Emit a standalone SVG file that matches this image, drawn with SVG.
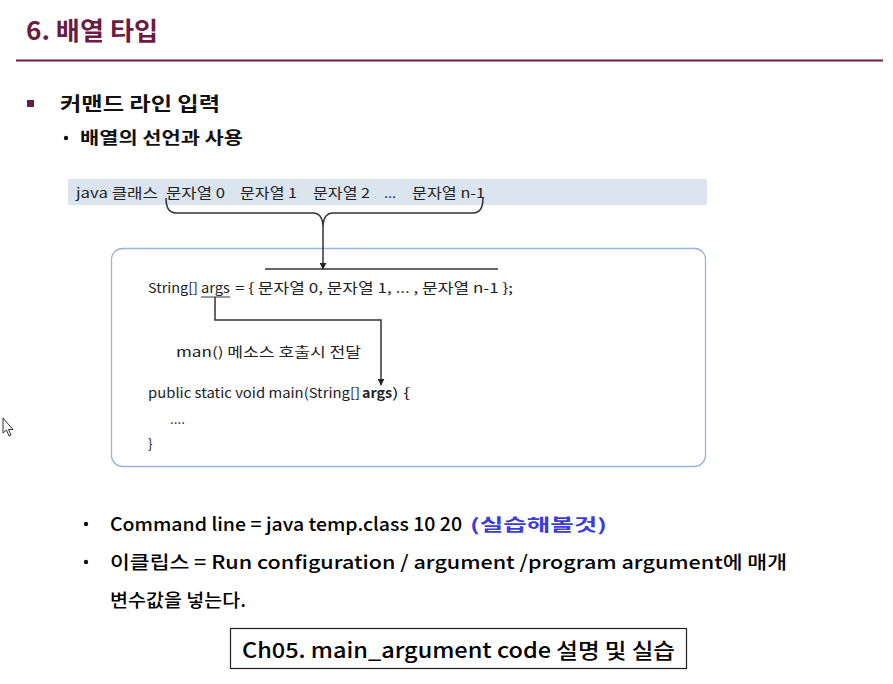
<svg xmlns="http://www.w3.org/2000/svg" width="893" height="684" viewBox="0 0 893 684">
  <style>
    .ttl { font-family: "Noto Sans CJK KR", "Noto Sans", sans-serif; font-weight: 700; fill: #6b1c42; }
    .hd { font-family: "Noto Sans CJK KR", "Noto Sans", sans-serif; font-weight: 700; fill: #111; }
    .cd { font-family: "Noto Sans CJK KR", "Liberation Sans", sans-serif; font-size: 13.5px; fill: #222; }
    .bt { font-family: "Noto Sans CJK KR", "Noto Sans", sans-serif; font-weight: 500; font-size: 18.5px; fill: #000; }
    .hint { font-weight: 700; font-size: 17px; fill: #3b3be0; }
    .conn { fill: none; stroke: #333; stroke-width: 1.5; }
  </style>
  <defs>
    <marker id="arr" viewBox="0 0 10 10" refX="9" refY="5" markerWidth="7" markerHeight="7" orient="auto" markerUnits="userSpaceOnUse">
      <path d="M0,0 L10,5 L0,10 z" fill="#222"/>
    </marker>
  </defs>
  <rect width="893" height="684" fill="#fff"/>

  <!-- heading -->
  <g id="title">
    <text class="ttl" x="26" y="40" font-size="25" textLength="132" lengthAdjust="spacingAndGlyphs">6. 배열 타입</text>
    <line x1="16" y1="60.5" x2="883" y2="60.5" stroke="#6b1c42" stroke-width="2"/>
  </g>

  <g id="bullet-1">
    <rect x="27" y="100" width="7" height="7" fill="#6b1c42"/>
    <text class="hd" x="60" y="111" font-size="19" textLength="160" lengthAdjust="spacingAndGlyphs">커맨드 라인 입력</text>
  </g>
  <g id="bullet-2">
    <circle cx="66" cy="138" r="2.2" fill="#111"/>
    <text class="hd" x="80" y="144" font-size="17" textLength="163" lengthAdjust="spacingAndGlyphs">배열의 선언과 사용</text>
  </g>

  <!-- command line band -->
  <g id="cmd-band">
    <rect x="68" y="179" width="639" height="26" fill="#dbe5ef"/>
    <text class="cd" x="76" y="198" textLength="82" lengthAdjust="spacingAndGlyphs">java 클래스</text>
    <text class="cd" x="166" y="198" textLength="59" lengthAdjust="spacingAndGlyphs">문자열 0</text>
    <text class="cd" x="240" y="198" textLength="57" lengthAdjust="spacingAndGlyphs">문자열 1</text>
    <text class="cd" x="313" y="198" textLength="57" lengthAdjust="spacingAndGlyphs">문자열 2</text>
    <text class="cd" x="384" y="198" textLength="12" lengthAdjust="spacingAndGlyphs">...</text>
    <text class="cd" x="412" y="198" textLength="73" lengthAdjust="spacingAndGlyphs">문자열 n-1</text>
  </g>

  <!-- code box -->
  <g id="code-box">
    <rect x="111.5" y="248.5" width="594" height="218" rx="11" fill="#fff" stroke="#9db4d1" stroke-width="1.3"/>
    <line x1="265" y1="269" x2="498" y2="269" stroke="#333" stroke-width="1.3"/>
    <text class="cd" x="148" y="293" textLength="50" lengthAdjust="spacingAndGlyphs">String[]</text>
    <text class="cd" x="201" y="293" textLength="29" lengthAdjust="spacingAndGlyphs">args</text>
    <line x1="201" y1="297" x2="230" y2="297" stroke="#333" stroke-width="1"/>
    <text class="cd" x="235" y="293" textLength="278" lengthAdjust="spacingAndGlyphs">= {  문자열 0, 문자열 1, ... ,  문자열 n-1 };</text>
    <text class="cd" x="176" y="357" textLength="185" lengthAdjust="spacingAndGlyphs">man()  메소스  호출시  전달</text>
    <text class="cd" x="148" y="398" textLength="212" lengthAdjust="spacingAndGlyphs">public static void main(String[]</text>
    <text class="cd" x="362" y="398" style="font-weight:700" textLength="30" lengthAdjust="spacingAndGlyphs">args</text>
    <text class="cd" x="392" y="398" textLength="18" lengthAdjust="spacingAndGlyphs">) {</text>
    <text class="cd" x="170" y="424">....</text>
    <text class="cd" x="148" y="449">}</text>
  </g>

  <!-- connectors -->
  <g id="connectors">
    <path class="conn" d="M166,198 Q166,213 176,213 L313,213 Q323,213 323,228 Q323,213 333,213 L473,213 Q483,213 483,198" stroke-width="1.2"/>
    <path class="conn" d="M323,228 L323,269" marker-end="url(#arr)"/>
    <path class="conn" d="M215,297 L215,320 L381,320 L381,385" marker-end="url(#arr)"/>
  </g>

  <!-- bottom notes -->
  <g id="note-1">
    <circle cx="86" cy="524" r="2.2" fill="#111"/>
    <text class="bt" x="110" y="531" textLength="352" lengthAdjust="spacingAndGlyphs">Command line = java temp.class 10 20</text>
    <text class="bt hint" x="470" y="531" textLength="137" lengthAdjust="spacingAndGlyphs">(실습해볼것)</text>
  </g>
  <g id="note-2">
    <circle cx="86" cy="562" r="2.2" fill="#111"/>
    <text class="bt" x="110" y="569" textLength="677" lengthAdjust="spacingAndGlyphs">이클립스 = Run configuration / argument /program argument에 매개</text>
    <text class="bt" x="110" y="607" textLength="136" lengthAdjust="spacingAndGlyphs">변수값을 넣는다.</text>
  </g>
  <g id="practice-box">
    <rect x="230.5" y="628.5" width="456" height="40" fill="#fff" stroke="#222" stroke-width="1.2"/>
    <text class="bt" x="242" y="658" style="font-size:21px" textLength="433" lengthAdjust="spacingAndGlyphs">Ch05. main_argument code 설명 및 실습</text>
  </g>

  <!-- mouse pointer -->
  <path d="M3,418 L3,433 L6.5,430 L9,436 L11,435 L8.5,429.5 L13,429.5 Z" fill="#fff" stroke="#333" stroke-width="1"/>
</svg>
